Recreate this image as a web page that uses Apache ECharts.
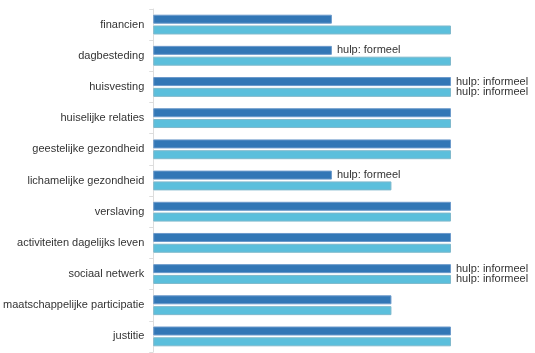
<!DOCTYPE html>
<html>
<head>
<meta charset="utf-8">
<script src="https://cdn.jsdelivr.net/npm/echarts@6/dist/echarts.min.js"></script>
<style>
    html, body { margin: 0; padding: 0; background: #fff; }
    #main { width: 535px; height: 353px; }
</style>
</head>
<body>
<div id="main"></div>
<script>
    // categories, top to bottom
    var categories = ['financien', 'dagbesteding', 'huisvesting', 'huiselijke relaties',
        'geestelijke gezondheid', 'lichamelijke gezondheid', 'verslaving',
        'activiteiten dagelijks leven', 'sociaal netwerk', 'maatschappelijke participatie', 'justitie'];

    var formeelValues = [3, 3, 5, 5, 5, 3, 5, 5, 5, 4, 5];
    var informeelValues = [5, 5, 5, 5, 5, 4, 5, 5, 5, 4, 5];

    var formeelLabels = ['', 'hulp: formeel', 'hulp: informeel', '', '', 'hulp: formeel', '', '', 'hulp: informeel', '', ''];
    var informeelLabels = ['', '', 'hulp: informeel', '', '', '', '', '', 'hulp: informeel', '', ''];

    function barLabel(texts) {
        return {
            show: true,
            position: 'right',
            distance: 5,
            color: '#333',
            fontFamily: 'Arial, "Liberation Sans", sans-serif',
            fontSize: 11,
            formatter: function (p) { return texts[p.dataIndex]; }
        };
    }

    var option = {
        animation: false,
        grid: { left: 152, right: 84, top: 9, bottom: 1, containLabel: false },
        xAxis: {
            type: 'value',
            min: 0,
            max: 5,
            show: false
        },
        yAxis: {
            type: 'category',
            inverse: true,
            data: categories,
            axisLine: { show: true, lineStyle: { color: '#ddd', width: 1 } },
            axisTick: { show: true, length: 4, lineStyle: { color: '#ddd' } },
            axisLabel: {
                color: '#333',
                fontFamily: 'Arial, "Liberation Sans", sans-serif',
                fontSize: 11,
                margin: 9
            },
            splitLine: { show: false }
        },
        series: [
            {
                name: 'formeel',
                type: 'bar',
                data: formeelValues,
                barWidth: 9,
                barGap: '20%',
                itemStyle: { color: '#3277b6', borderColor: '#6c9acb', borderWidth: 1 },
                label: barLabel(formeelLabels)
            },
            {
                name: 'informeel',
                type: 'bar',
                data: informeelValues,
                barWidth: 9,
                itemStyle: { color: '#5bbfdc', borderColor: '#7fb9cc', borderWidth: 1 },
                label: barLabel(informeelLabels)
            }
        ]
    };

    var myChart = echarts.init(document.getElementById('main'));
    myChart.setOption(option);
</script>
</body>
</html>
